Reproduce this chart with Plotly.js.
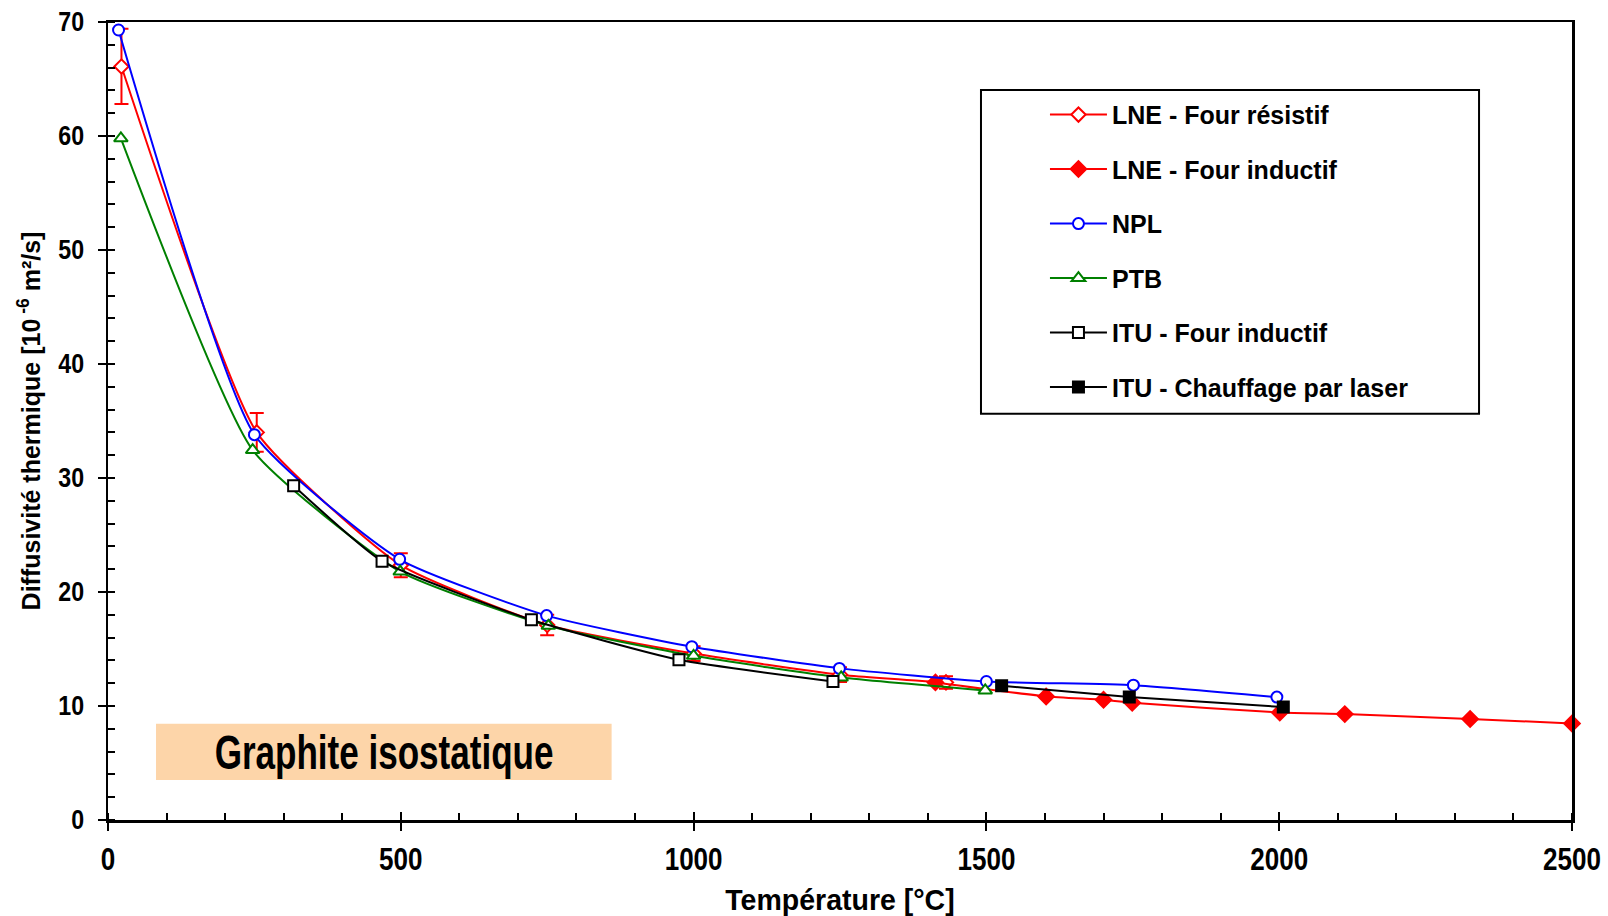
<!DOCTYPE html>
<html>
<head>
<meta charset="utf-8">
<script src="https://cdn.plot.ly/plotly-3.0.1.min.js"></script>
<style>html,body{margin:0;padding:0;background:#fff;}#chart{width:1608px;height:916px;}</style>
</head>
<body>
<div id="chart"></div>
<script>
// Data
const lneResT = [23, 254, 500, 750, 1000, 1250, 1431];
const lneResD = [66.1, 34.0, 22.35, 17.1, 14.6, 12.75, 12.07];
const lneResErr = [3.3, 1.7, 1.05, 0.9, 0.65, 0.65, 0.55];
const lneIndT = [1413, 1602, 1700, 1749, 2001, 2112, 2326, 2500];
const lneIndD = [12.07, 10.84, 10.55, 10.29, 9.43, 9.29, 8.86, 8.47];
const nplT = [18, 250, 498, 749, 997, 1249, 1500, 1751, 1996];
const nplD = [69.3, 33.8, 22.87, 17.93, 15.2, 13.3, 12.15, 11.83, 10.78];
const ptbT = [22, 247, 499, 752, 1000, 1252, 1498];
const ptbD = [59.8, 32.45, 21.79, 17.03, 14.4, 12.5, 11.37];
const ituIndT = [317, 468, 723, 975, 1238];
const ituIndD = [29.33, 22.7, 17.56, 14.05, 12.15];
const ituLasT = [1526, 1744, 2007];
const ituLasD = [11.77, 10.8, 9.91];

const seriesNames = ["LNE - Four résistif", "LNE - Four inductif", "NPL", "PTB", "ITU - Four inductif", "ITU - Chauffage par laser"];
const xTitle = "Température [°C]";
const yTitle = "Diffusivité thermique [10<sup> -6</sup> m²/s]";
const boxLabel = "Graphite isostatique";

const font = '"Liberation Sans", Arial, sans-serif';

function tr(name, x, y, color, symbol, fill, size, group, extra) {
  const t = {
    type: 'scatter', mode: 'lines+markers', name: name, x: x, y: y,
    legendgroup: group,
    line: {color: color, width: 2, shape: 'spline', smoothing: 0.5},
    marker: {symbol: symbol, size: size, color: fill, line: {color: color, width: 2}},
    cliponaxis: false
  };
  return Object.assign(t, extra || {});
}

const data = [
  tr(seriesNames[0], lneResT, lneResD, '#FF0000', 'diamond', '#FFFFFF', 11, 'g1',
     {error_y: {type: 'data', array: lneResErr, visible: true, color: '#FF0000', thickness: 2, width: 7}}),
  tr(seriesNames[1], lneIndT, lneIndD, '#FF0000', 'diamond', '#FF0000', 12, 'g2'),
  tr(seriesNames[2], nplT, nplD, '#0000FF', 'circle', '#FFFFFF', 11, 'g3'),
  tr(seriesNames[3], ptbT, ptbD, '#008000', 'triangle-up', '#FFFFFF', 12, 'g4'),
  tr(seriesNames[4], ituIndT, ituIndD, '#000000', 'square', '#FFFFFF', 11, 'g5'),
  tr(seriesNames[5], ituLasT, ituLasD, '#000000', 'square', '#000000', 11, 'g6')
];

const layout = {
  width: 1608, height: 916,
  margin: {l: 108, r: 36, t: 22, b: 96},
  paper_bgcolor: '#FFFFFF', plot_bgcolor: '#FFFFFF',
  showlegend: true,
  legend: {
    x: 0.640, xanchor: 'left', y: 0.9125, yanchor: 'top',
    bgcolor: 'rgba(0,0,0,0)', borderwidth: 0,
    traceorder: 'grouped', tracegroupgap: 19, itemwidth: 57,
    font: {family: font, size: 25, color: '#000', weight: 'bold'}
  },
  xaxis: {
    range: [0, 2500], dtick: 500, tick0: 0,
    showgrid: false, zeroline: false,
    showline: true, linecolor: '#000', linewidth: 2.5, mirror: true,
    ticks: 'outside', ticklen: 8, tickwidth: 2, tickcolor: '#000',
    ticklabelstandoff: 2,
    tickfont: {family: font, size: 31, color: '#000', weight: 'bold'},
    minor: {dtick: 100, ticks: 'inside', ticklen: 7, tickwidth: 2, tickcolor: '#000', showgrid: false},
    title: {text: xTitle, standoff: 18, font: {family: font, size: 30, color: '#000', weight: 'bold'}}
  },
  xaxis2: {
    overlaying: 'x', matches: 'x', side: 'bottom', range: [0, 2500], dtick: 500, tick0: 0,
    showgrid: false, zeroline: false, showline: false, showticklabels: false,
    ticks: 'inside', ticklen: 8, tickwidth: 2, tickcolor: '#000'
  },
  yaxis: {
    range: [0, 70], dtick: 10, tick0: 0,
    showgrid: false, zeroline: false,
    showline: true, linecolor: '#000', linewidth: 2.5, mirror: true,
    ticks: 'outside', ticklen: 8, tickwidth: 2, tickcolor: '#000',
    ticklabelstandoff: 8,
    tickfont: {family: font, size: 27, color: '#000', weight: 'bold'},
    minor: {dtick: 2, ticks: 'inside', ticklen: 7, tickwidth: 2, tickcolor: '#000', showgrid: false},
    title: {text: yTitle, standoff: 7, font: {family: font, size: 25, color: '#000', weight: 'bold'}}
  },
  shapes: [
    {type: 'rect', xref: 'x', yref: 'y', x0: 82, x1: 860, y0: 3.5, y1: 8.45,
     fillcolor: '#FDD5A9', line: {width: 0}, layer: 'below'},
    {type: 'rect', xref: 'paper', yref: 'paper', x0: 0.5963, x1: 0.9365, y0: 0.509, y1: 0.9148,
     fillcolor: '#FFFFFF', line: {color: '#000', width: 2}, layer: 'below'}
  ],
  annotations: [
    {xref: 'x', yref: 'y', x: 471, y: 5.9, text: boxLabel, showarrow: false,
     xanchor: 'center', yanchor: 'middle',
     font: {family: font, size: 48, color: '#000', weight: 'bold'}}
  ]
};

// empty trace so the overlaying axis (crossing major ticks) is drawn
data.push({type: 'scatter', x: [], y: [], xaxis: 'x2', yaxis: 'y', showlegend: false, hoverinfo: 'skip'});

// The reference uses a condensed bold face; narrow the real text glyphs to match
function condense(selector, factor) {
  document.querySelectorAll(selector).forEach(function (el) {
    const len = el.getComputedTextLength();
    if (len > 0) {
      el.setAttribute('textLength', (len * factor).toFixed(1));
      el.setAttribute('lengthAdjust', 'spacingAndGlyphs');
    }
  });
}

Plotly.newPlot('chart', data, layout, {staticPlot: true, displayModeBar: false}).then(function () {
  condense('#chart .xaxislayer-above .xtick text', 0.84);
  condense('#chart .ytick text', 0.86);
  condense('#chart .g-xtitle text', 0.95);
  condense('#chart .annotation-text', 0.73);
});
</script>
</body>
</html>
